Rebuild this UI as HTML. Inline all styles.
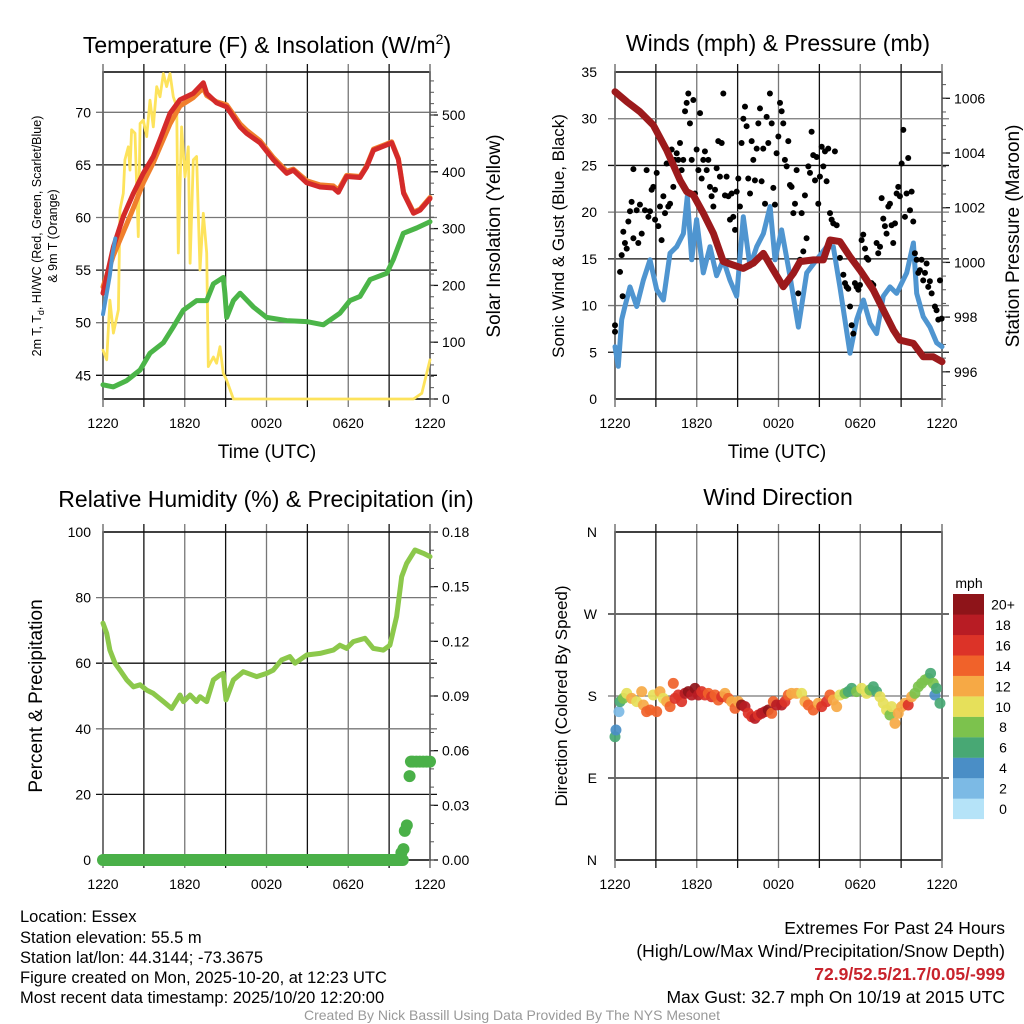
<!DOCTYPE html>
<html><head><meta charset="utf-8"><style>
html,body{margin:0;padding:0;background:#fff;}
svg{display:block;font-family:"Liberation Sans",Arial,sans-serif;}
</style></head><body>
<svg id="fig" width="1024" height="1024" viewBox="0 0 1024 1024" xmlns="http://www.w3.org/2000/svg">
<g id="static">
<text x="267" y="53" font-size="23" text-anchor="middle">Temperature (F) &amp; Insolation (W/m<tspan dy="-9" font-size="14">2</tspan><tspan dy="9">)</tspan></text>
<text x="778" y="51" font-size="23" text-anchor="middle">Winds (mph) &amp; Pressure (mb)</text>
<text x="266" y="507" font-size="23" text-anchor="middle">Relative Humidity (%) &amp; Precipitation (in)</text>
<text x="778" y="505" font-size="23" text-anchor="middle">Wind Direction</text>
<text x="267" y="458" font-size="19" text-anchor="middle">Time (UTC)</text>
<text x="777" y="458" font-size="19" text-anchor="middle">Time (UTC)</text>
<text transform="translate(41,236) rotate(-90)" font-size="12.5" text-anchor="middle">2m T, T<tspan dy="3" font-size="9">d</tspan><tspan dy="-3">, HI/WC (Red, Green, Scarlet/Blue)</tspan></text>
<text transform="translate(57,236) rotate(-90)" font-size="12.5" text-anchor="middle">&amp; 9m T (Orange)</text>
<text transform="translate(500,236) rotate(-90)" font-size="19" text-anchor="middle">Solar Insolation (Yellow)</text>
<text transform="translate(564,236) rotate(-90)" font-size="17" text-anchor="middle">Sonic Wind &amp; Gust (Blue, Black)</text>
<text transform="translate(1019,236) rotate(-90)" font-size="19" text-anchor="middle">Station Pressure (Maroon)</text>
<text transform="translate(42,696) rotate(-90)" font-size="19" text-anchor="middle">Percent &amp; Precipitation</text>
<text transform="translate(567,696) rotate(-90)" font-size="17" text-anchor="middle">Direction (Colored By Speed)</text>
<text x="969" y="588" font-size="14" text-anchor="middle">mph</text>
<g font-size="16.5">
<text x="20" y="922">Location: Essex</text>
<text x="20" y="943">Station elevation: 55.5 m</text>
<text x="20" y="963">Station lat/lon: 44.3144; -73.3675</text>
<text x="20" y="983">Figure created on Mon, 2025-10-20, at 12:23 UTC</text>
<text x="20" y="1003">Most recent data timestamp: 2025/10/20 12:20:00</text>
</g>
<g font-size="17.5" text-anchor="end">
<text x="1005" y="934">Extremes For Past 24 Hours</text>
<text x="1005" y="957">(High/Low/Max Wind/Precipitation/Snow Depth)</text>
<text x="1005" y="980" fill="#c8232c" font-weight="bold">72.9/52.5/21.7/0.05/-999</text>
<text x="1005" y="1003">Max Gust: 32.7 mph On 10/19 at 2015 UTC</text>
</g>
<text x="512" y="1020" font-size="14" fill="#999" text-anchor="middle">Created By Nick Bassill Using Data Provided By The NYS Mesonet</text>
</g>
</svg>
<script>
// ---------- data (hours since 12:20 UTC) ----------
const timeTickLabels=["1220","1820","0020","0620","1220"];
const tempT=[0,0.76,1.49,2.23,2.96,3.69,4.18,4.92,5.65,6.63,7.36,7.61,8.34,9.08,10.06,10.54,11.52,12.5,13.48,13.97,14.95,15.93,16.9,17.27,17.88,18.86,19.35,19.85,20.82,21.19,21.68,22.06,22.79,23.27,24];
const tempV=[52.8,57.2,60.1,62.3,64.2,65.8,67.4,69.9,71.2,71.8,72.8,71.8,70.9,70.5,68.6,68.0,67.1,65.5,64.2,64.5,63.3,62.9,62.8,62.4,63.9,63.8,64.8,66.4,66.9,67.1,65.5,62.3,60.4,60.7,61.8];
const temp9T=[0,0.76,1.49,2.23,2.96,3.69,4.18,4.92,5.65,6.63,7.36,7.61,8.34,9.08,10.06,10.54,11.52,12.5,13.48,13.97,14.95,15.93,16.9,17.27,17.88,18.86,19.35,19.85,20.82,21.19,21.68,22.06,22.79,23.27,24];
const temp9V=[53.4,56.4,58.6,60.9,63.3,65.2,66.7,68.9,70.6,71.4,72.3,71.6,71.0,70.7,68.9,68.3,67.3,65.7,64.4,64.6,63.5,63.1,63.0,62.6,64.0,63.9,64.9,66.5,67.0,67.2,65.6,62.4,60.5,60.8,61.9];
const hiT=[0,0.3,0.5,0.7,0.9];
const hiV=[50.8,53.0,54.5,56.5,58.0];
const dewT=[0,0.76,1.74,2.72,3.45,4.43,5.16,5.90,6.87,7.61,8.1,8.83,8.95,9.08,9.57,10.06,11.03,12.01,13.48,14.95,16.17,17.39,18.13,18.86,19.6,20.82,21.31,22.04,23.02,24];
const dewV=[44.1,43.9,44.5,45.5,47.1,48.1,49.6,51.2,52.1,52.1,53.7,54.3,52.8,50.5,52.1,52.8,51.5,50.5,50.2,50.1,49.8,50.9,52.1,52.5,54.1,54.7,56.0,58.5,59.0,59.6];
const solT=[0,0.27,0.51,0.76,1.13,1.25,1.49,1.61,1.86,1.98,2.10,2.35,2.59,2.72,2.96,3.21,3.45,3.69,3.94,4.18,4.43,4.67,4.92,5.16,5.41,5.53,5.77,6.02,6.26,6.39,6.63,6.87,7.12,7.36,7.61,7.73,8.1,8.34,8.59,8.83,9.08,9.57,22.79,23.4,24];
const solV=[86,69,174,116,157,333,362,421,444,403,474,468,286,485,491,462,526,479,550,532,573,550,573,532,515,257,479,391,444,239,421,427,227,327,257,57,74,63,92,45,33,0,0,10,69];
const tempTicks=[45,50,55,60,65,70];
const solTicks=[0,100,200,300,400,500];

const windT=[0,0.24,0.49,0.73,1.10,1.59,2.08,2.57,3.06,3.55,4.04,4.53,5.02,5.31,5.63,5.99,6.48,6.97,7.46,7.95,8.44,8.93,9.42,9.91,10.40,10.89,11.38,11.74,12.23,12.84,13.46,14.07,14.80,15.54,16.02,16.51,17.25,17.74,18.23,18.72,19.20,19.69,20.18,20.67,21.41,21.90,22.14,22.63,23.12,23.61,24];
const windV=[5.6,3.5,8.5,9.9,12.0,9.9,12.7,14.9,11.7,10.6,15.6,16.3,17.7,21.7,14.9,19.2,13.5,16.3,13.2,14.9,12.7,11.0,19.5,14.2,16.3,17.7,20.6,14.9,18.1,13.2,7.7,13.5,14.9,16.3,16.3,12.0,4.9,8.5,10.6,8.1,7.0,11.0,12.0,11.3,13.5,16.7,11.3,8.8,7.7,6.0,5.6];
const gustT=[0,0,0.37,0.49,0.56,0.61,0.73,0.86,0.98,1.10,1.22,1.35,1.35,1.59,1.71,1.83,1.96,2.20,2.32,2.45,2.57,2.69,2.81,2.94,3.06,3.18,3.30,3.42,3.55,3.67,3.79,3.91,4.04,4.16,4.28,4.40,4.53,4.65,4.77,4.89,5.01,5.14,5.26,5.38,5.50,5.63,5.75,5.87,5.99,6.12,6.24,6.36,6.48,6.60,6.73,6.85,6.97,7.09,7.22,7.34,7.46,7.58,7.70,7.83,7.95,8.07,8.19,8.32,8.44,8.56,8.68,8.81,8.93,9.05,9.17,9.29,9.42,9.54,9.66,9.78,9.91,10.03,10.15,10.27,10.40,10.52,10.64,10.76,10.88,11.01,11.13,11.25,11.37,11.50,11.62,11.74,11.86,11.99,12.11,12.23,12.35,12.47,12.60,12.72,12.84,12.96,13.09,13.21,13.33,13.45,13.58,13.70,13.82,13.94,14.06,14.19,14.31,14.43,14.55,14.68,14.80,14.92,15.04,15.17,15.29,15.41,15.53,15.65,15.78,15.90,16.02,16.14,16.27,16.51,16.76,16.88,17.00,17.12,17.25,17.37,17.49,17.61,17.73,17.86,17.98,18.10,18.22,18.35,18.47,18.59,18.71,18.83,18.96,19.20,19.32,19.45,19.57,19.69,19.81,19.93,20.06,20.18,20.30,20.42,20.55,20.67,20.79,20.91,21.04,21.16,21.28,21.40,21.52,21.65,21.77,21.89,22.01,22.14,22.26,22.38,22.50,22.62,22.75,22.87,22.99,23.11,23.24,23.48,23.60,23.73,23.85,23.97];
const gustV=[7.9,7.2,13.6,15.4,11.0,17.9,16.7,16.1,19.0,20.1,21.1,24.6,17.2,20.2,16.7,20.8,17.7,20.2,24.5,19.5,20.1,22.4,22.7,19.2,24.2,18.5,20.6,17.0,21.7,19.9,25.2,20.6,20.9,26.7,22.7,25.6,26.3,25.6,27.4,24.5,25.6,30.8,31.7,32.7,29.5,25.6,32.0,22.0,26.7,24.5,30.6,23.6,25.6,26.5,24.5,25.6,22.7,21.7,20.6,22.4,24.7,27.6,23.8,27.4,32.7,21.8,23.8,21.7,19.2,22.0,19.5,18.1,22.2,23.6,20.6,27.4,30.0,31.3,29.2,23.6,22.0,27.6,25.6,23.4,26.8,29.5,31.1,23.3,26.8,20.9,30.2,27.4,32.7,29.5,22.6,20.8,26.3,28.1,31.7,30.8,29.5,25.6,24.9,27.6,22.9,22.7,19.9,20.9,24.5,11.3,14.9,19.9,15.8,21.8,17.2,24.9,24.2,28.6,26.1,23.4,25.9,20.9,23.8,27.0,24.9,26.5,23.3,26.8,19.9,19.2,18.8,26.5,18.6,15.1,13.3,12.4,12.0,11.8,9.9,7.9,7.0,12.4,12.0,11.7,12.2,17.0,17.6,16.1,15.1,14.9,12.4,12.4,12.2,16.7,15.6,16.3,21.5,19.3,18.5,17.7,20.6,20.9,18.6,16.7,18.8,22.0,22.7,21.7,25.2,28.8,19.5,22.0,25.8,20.2,22.2,19.0,15.6,14.9,13.5,13.8,14.9,12.7,13.5,14.5,12.0,12.6,11.3,9.9,9.5,8.5,12.7,8.6];
const presT=[0,0.86,1.83,2.81,3.79,4.77,5.26,5.75,6.48,7.22,7.95,8.68,9.42,10.15,10.89,11.62,12.35,13.09,13.58,14.56,15.29,15.78,16.51,17.25,17.98,18.96,19.69,20.43,20.92,21.9,22.63,23.36,24];
const presV=[1006.24,1005.88,1005.51,1005.02,1004.11,1003.01,1002.59,1002.46,1001.80,1001.06,1000.03,999.90,999.78,999.97,1000.33,999.72,999.11,999.60,1000.03,1000.09,1000.09,1000.82,1000.76,1000.21,999.72,998.99,998.26,997.53,997.16,997.04,996.55,996.55,996.37];
const windTicks=[0,5,10,15,20,25,30,35];
const presTicks=[996,998,1000,1002,1004,1006];

const rhT=[0,0.27,0.51,0.88,1.25,1.74,2.23,2.72,3.21,3.69,4.43,5.04,5.65,5.90,6.39,6.87,7.12,7.61,8.1,8.59,8.83,9.03,9.57,10.30,11.28,12.01,12.5,13.11,13.72,14.09,14.95,15.93,16.9,17.39,17.88,18.37,19.23,19.84,20.57,21.06,21.55,21.92,22.28,22.9,23.51,24];
const rhV=[72.2,69.1,64.0,60.0,57.9,54.9,52.8,53.4,51.8,50.8,48.3,46.2,50.3,48.3,50.3,48.3,49.8,48.3,54.9,56.4,56.9,48.8,54.9,57.4,55.9,56.9,57.9,61.0,62.0,60.0,62.5,63.0,64.0,65.5,64.5,66.6,67.6,64.5,64.0,65.5,74.2,86.4,90.4,94.5,93.5,92.5];
const precipT=[0,1,2,3,4,5,6,7,8,9,10,11,12,13,14,15,16,17,18,19,20,21,22.0,21.9,22.05,22.15,22.3,22.5,22.6,22.75,23.0,23.25,23.5,23.75,24];
const precipV=[0,0,0,0,0,0,0,0,0,0,0,0,0,0,0,0,0,0,0,0,0,0,0,0.004,0.006,0.016,0.019,0.046,0.054,0.054,0.054,0.054,0.054,0.054,0.054];
const rhTicks=[0,20,40,60,80,100];
const precipTicks=["0.00","0.03","0.06","0.09","0.12","0.15","0.18"];

const dirT=[0,0.07,0.29,0.37,0.61,0.86,1.22,1.59,1.96,2.08,2.32,2.57,2.81,3.06,3.30,3.55,3.79,4.04,4.28,4.40,4.65,4.89,5.14,5.38,5.63,5.87,6.12,6.36,6.60,6.85,7.09,7.34,7.58,7.83,8.07,8.32,8.56,8.81,9.05,9.29,9.54,9.78,10.03,10.27,10.52,10.76,11.01,11.25,11.50,11.62,11.86,12.23,12.47,12.72,12.96,13.33,13.70,13.94,14.19,14.55,14.92,15.17,15.53,15.78,16.02,16.27,16.51,16.88,17.12,17.37,17.73,18.10,18.47,18.71,18.96,19.20,19.45,19.69,19.93,20.18,20.30,20.55,20.79,21.04,21.28,21.52,21.77,22.01,22.26,22.50,22.75,22.99,23.16,23.36,23.48,23.60,23.85];
const dirV=[135.3,142.7,162.8,173.8,177.4,182.9,177.4,173.8,184.8,170.1,162.8,164.6,181.1,162.8,184.8,177.4,173.8,168.3,193.9,177.4,181.1,173.8,182.9,184.8,181.1,188.4,181.1,184.8,181.1,182.9,179.2,181.1,175.6,179.2,182.9,177.4,173.8,166.5,173.8,170.1,168.3,161,157.3,155.5,159.1,161,162.8,164.6,161,173.8,170.1,170.1,173.8,181.1,182.9,182.9,182.9,173.8,170.1,164.6,172,168.3,173.8,181.1,175.6,168.3,181.1,182.9,184.8,188.4,184.8,188.4,182.9,186.6,190.2,184.8,179.2,172,164.6,159.1,168.3,150,161,168.3,172,170.1,179.2,182.9,190.2,193.9,197.6,199.4,204.9,193.9,181.1,188.4,172];
const dirS=[6,4,2,6,8,10,12,10,12,12,14,14,10,14,12,10,12,14,14,16,16,16,18,20,18,20,18,16,16,14,16,14,14,16,12,14,12,14,12,20,18,16,16,18,16,18,18,20,14,14,18,18,16,14,12,12,10,12,14,14,12,16,16,14,12,12,10,8,6,6,8,10,10,8,6,6,10,10,10,8,10,12,12,12,12,16,12,8,8,8,8,8,6,8,4,6,6];
const speedBinColors=["#b5e3f8","#7cbae5","#4a8ec6","#48a874","#7cc24d","#e6e05a","#f6a945","#f0622a","#dc3328","#b81c24","#8e1419"];
const speedLabels=["0","2","4","6","8","10","12","14","16","18","20+"];
const dirTickLabels=["N","E","S","W","N"];
const dirTicks=[0,90,180,270,360];

// ---------- drawing ----------
const NS="http://www.w3.org/2000/svg";
const svg=document.getElementById("fig");
function el(tag,attrs,parent){const e=document.createElementNS(NS,tag);for(const k in attrs)e.setAttribute(k,attrs[k]);(parent||svg).appendChild(e);return e;}
function lin(d0,d1,r0,r1){return v=>r0+(v-d0)/(d1-d0)*(r1-r0);}

const P1={x0:103,x1:430,y0:72,y1:399},P2={x0:615,x1:942,y0:72,y1:399},P3={x0:103,x1:430,y0:532,y1:860},P4={x0:615,x1:942,y0:532,y1:860};

function frame(P,name,hGridPx){
  const g=el("g",{});
  
  
  for(let h=3;h<24;h+=3){const x=lin(0,24,P.x0,P.x1)(h);
    const ln=el("line",{x1:x,x2:x,y1:P.y0-8,y2:P.y1+8,stroke:(h%6==0)?"#777":"#111","stroke-width":1.3},g);
    
    }
  hGridPx.forEach((y,i)=>{const ln=el("line",{x1:P.x0-7,x2:P.x1+7,y1:y,y2:y,stroke:(i%2)?"#777":"#111","stroke-width":1.3},g);
    
    });
  const b=el("rect",{x:P.x0,y:P.y0,width:P.x1-P.x0,height:P.y1-P.y0,fill:"none",stroke:"#111","stroke-width":1.6},g);
  
  
  [P.x0,P.x1].forEach(x=>{const t=el("line",{x1:x,x2:x,y1:P.y0-8,y2:P.y1+8,stroke:"#777","stroke-width":1.5},g);
    
    });
  timeTickLabels.forEach((lab,i)=>{const x=lin(0,24,P.x0,P.x1)(i*6);
    const t=el("text",{x:x,y:P.y1+29,"font-size":14,"text-anchor":"middle"},svg);t.textContent=lab;
    
    });
}
function leftLabels(P,ticks,sy,labels,x){ticks.forEach((v,i)=>{const t=el("text",{x:x,y:sy(v)+5,"font-size":14,"text-anchor":"end"});t.textContent=labels?labels[i]:v;
  
  });}
function rightLabels(P,ticks,sy,labels,x,minorStep,lo,hi){
  ticks.forEach((v,i)=>{const t=el("text",{x:x,y:sy(v)+5,"font-size":14});t.textContent=labels?labels[i]:v;
    
    
    const tk=el("line",{x1:P.x1,x2:P.x1+8,y1:sy(v),y2:sy(v),stroke:"#111","stroke-width":1.3});
    
    });
  for(let v=lo;v<=hi+1e-9;v+=minorStep){const y=sy(v);if(y<P.y0-1||y>P.y1+1)continue;
    const tk=el("line",{x1:P.x1,x2:P.x1+4,y1:y,y2:y,stroke:"#555","stroke-width":1});
    
    }
}
function path(ts,vs,sx,sy,color,w,name){let d="";ts.forEach((t,i)=>{d+=(i?"L":"M")+sx(t).toFixed(1)+","+sy(vs[i]).toFixed(1);});
  const p=el("path",{d:d,fill:"none",stroke:color,"stroke-width":w,"stroke-linejoin":"round","stroke-linecap":"round"});
  
  return p;}

// Panel 1
const sx1=lin(0,24,P1.x0,P1.x1), sT=lin(70,45,112.3,375.3), sSol=lin(0,500,399,115);
frame(P1,"temperature-panel",tempTicks.map(sT));
leftLabels(P1,tempTicks,sT,null,91);
rightLabels(P1,solTicks,sSol,null,442,20,0,580);
path(solT,solV,sx1,sSol,"#fde35c",2.8,"insolation-line");
path(dewT,dewV,sx1,sT,"#4bb548",5,"dewpoint-line");
path(temp9T,temp9V,sx1,sT,"#f07f2c",5,"temperature-9m-line");
path(tempT,tempV,sx1,sT,"#d42a2a",5,"temperature-2m-line");
path(hiT,hiV,sx1,sT,"#4f95d0",4,"heat-index-windchill-line");

// Panel 2
const sx2=lin(0,24,P2.x0,P2.x1), sW=lin(0,35,399,72), sP=lin(1006,996,98.3,371.8);
frame(P2,"winds-panel",windTicks.slice(1,-1).map(sW));
leftLabels(P2,windTicks,sW,null,597);
rightLabels(P2,presTicks,sP,null,954,0.5,995,1007);
path(windT,windV,sx2,sW,"#4f95d0",5,"sonic-wind-line");
gustT.forEach((t,i)=>{const c=el("circle",{cx:sx2(t),cy:sW(gustV[i]),r:3,fill:"#000"});
  
  });
path(presT,presV,sx2,sP,"#9c1a1c",7,"pressure-line");

// Panel 3
const sx3=lin(0,24,P3.x0,P3.x1), sRH=lin(0,100,860,532), sPr=lin(0,0.18,860,532);
frame(P3,"humidity-panel",[20,40,60,80].map(sRH));
leftLabels(P3,rhTicks,sRH,null,91);
rightLabels(P3,precipTicks.map(Number),sPr,precipTicks,442,0.01,0,0.18);
path(rhT,rhV,sx3,sRH,"#8cc84b",5,"relative-humidity-line");
path(precipT.filter((t,i)=>precipV[i]===0),precipV.filter(v=>v===0),sx3,sPr,"#4ab048",12,"precipitation-zero-band");
precipT.forEach((t,i)=>{if(precipV[i]===0)return;const c=el("circle",{cx:sx3(t),cy:sPr(precipV[i]),r:6,fill:"#4ab048"});
  
  });

// Panel 4
const sx4=lin(0,24,P4.x0,P4.x1), sD=lin(0,360,860,532);
frame(P4,"direction-panel",[90,180,270].map(sD));
leftLabels(P4,dirTicks,sD,dirTickLabels,597);
dirT.forEach((t,i)=>{const bin=Math.min(10,Math.floor(dirS[i]/2));
  const c=el("circle",{cx:sx4(t),cy:sD(dirV[i]),r:5.5,fill:speedBinColors[bin],"fill-opacity":0.92});
  
  });
speedBinColors.forEach((col,i)=>{const y=594+(10-i)*20.45;
  const r=el("rect",{x:953,y:y,width:31,height:20.6,fill:col});
  
  
  const t=el("text",{x:1003,y:y+15.5,"font-size":14,"text-anchor":"middle"});t.textContent=speedLabels[i];
  
  });
</script>
</body></html>
